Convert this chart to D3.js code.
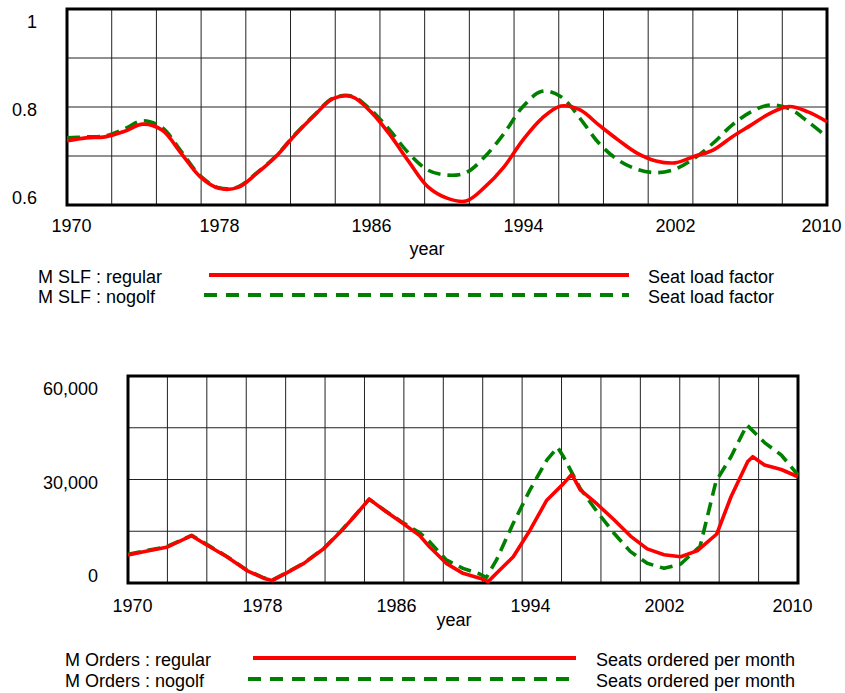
<!DOCTYPE html>
<html>
<head>
<meta charset="utf-8">
<script src="https://cdn.jsdelivr.net/npm/d3@7"></script>
<style>
  html, body { margin: 0; padding: 0; background: #fff; }
  svg { display: block; }
  text { font-family: "Liberation Sans", Arial, Helvetica, sans-serif; fill: #000; }
</style>
</head>
<body>
<svg id="chart" width="845" height="693"></svg>
<script>
// --- data ---
const xTickYears = [1970, 1978, 1986, 1994, 2002, 2010];

const slfYears = d3.range(1970, 2011);
const slfRegular = [
  0.731, 0.737, 0.739, 0.750, 0.765, 0.753, 0.706, 0.658, 0.634, 0.636,
  0.665, 0.699, 0.743, 0.782, 0.817, 0.821, 0.790, 0.743, 0.688, 0.637,
  0.614, 0.608, 0.637, 0.678, 0.733, 0.777, 0.802, 0.794, 0.763, 0.733,
  0.706, 0.690, 0.686, 0.699, 0.712, 0.739, 0.763, 0.787, 0.801, 0.790,
  0.770
];
const slfNogolf = [
  0.737, 0.739, 0.741, 0.755, 0.772, 0.758, 0.710, 0.660, 0.635, 0.637,
  0.666, 0.700, 0.744, 0.783, 0.818, 0.822, 0.794, 0.752, 0.705, 0.671,
  0.661, 0.666, 0.699, 0.746, 0.801, 0.832, 0.821, 0.777, 0.726, 0.692,
  0.673, 0.666, 0.673, 0.695, 0.726, 0.763, 0.790, 0.804, 0.797, 0.770,
  0.739
];
const slfTicks = [0.6, 0.8, 1];

const ordersRegularYears = [
  1970, 1971, 1972.3, 1973.8, 1974.7, 1975.9, 1977.1, 1978.1, 1978.6, 1979.5,
  1980.5, 1981.7, 1982.7, 1983.5, 1984.4, 1985.4, 1986.4, 1987.4, 1988, 1989,
  1990, 1991, 1991.5, 1992, 1993, 1994, 1995, 1996, 1996.5, 1997,
  1998, 1999, 2000, 2001, 2002, 2003, 2004, 2005.15, 2006, 2007,
  2007.3, 2008, 2009, 2010
];
const ordersRegular = [
  8100, 9100, 10350, 13700, 11000, 7600, 3600, 1400, 700, 3000,
  5700, 10000, 14900, 19200, 24300, 20700, 17300, 13800, 10500, 5700,
  2800, 1400, 400, 2800, 7600, 15300, 24000, 28800, 31500, 27000,
  22900, 18400, 13600, 9900, 8200, 7600, 9400, 14200, 25000, 35200,
  36600, 34200, 32900, 30800
];
const ordersNogolfYears = [
  1970, 1971, 1972.3, 1973.8, 1974.7, 1975.9, 1977.1, 1978.1, 1978.6, 1979.5,
  1980.5, 1981.7, 1982.7, 1983.5, 1984.4, 1985.4, 1986.4, 1987.4, 1988, 1989,
  1990, 1991, 1991.4, 1992, 1993, 1994, 1995, 1995.65, 1996, 1997,
  1998, 1999, 2000, 2001, 2002, 2003, 2004, 2004.15, 2005.1, 2006,
  2006.95, 2008, 2009, 2010
];
const ordersNogolf = [
  8300, 9300, 10500, 13800, 11200, 7700, 3700, 1500, 800, 3100,
  5800, 10100, 15000, 19300, 24300, 20800, 17500, 14600, 12000, 6700,
  4250, 2600, 1600, 6700, 17300, 27000, 35600, 39300, 36600, 27400,
  20700, 14500, 9100, 5700, 4250, 5500, 10000, 10500, 29400, 36600,
  45800, 40700, 37100, 31300
];
const ordersTicks = [0, 30000, 60000];

const seriesNames = ["regular", "nogolf"];
const seriesColors = ["#ff0000", "#008000"];
const legendUnits = ["Seat load factor", "Seats ordered per month"];
const legendVars = ["M SLF", "M Orders"];

// --- drawing ---
const svg = d3.select('#chart');

function drawPanel(p) {
  const g = svg.append('g');

  const x = d3.scaleLinear().domain([1970, 2010]).range([p.left, p.right]);
  const y = d3.scaleLinear().domain(p.yDomain).range([p.bottom, p.top]);

  // grid: 17 columns, 4 rows like the source
  const vCols = d3.range(1, 17).map(i => 1970 + i * 40 / 17);
  g.selectAll('.vgrid').data(vCols).enter().append('line')
    .attr('x1', d => x(d)).attr('x2', d => x(d))
    .attr('y1', p.top).attr('y2', p.bottom)
    .attr('stroke', '#222').attr('stroke-width', 1);

  const [y0, y1] = p.yDomain;
  const hRows = d3.range(1, 4).map(i => y0 + i * (y1 - y0) / 4);
  g.selectAll('.hgrid').data(hRows).enter().append('line')
    .attr('x1', p.left).attr('x2', p.right)
    .attr('y1', d => y(d)).attr('y2', d => y(d))
    .attr('stroke', '#222').attr('stroke-width', 1);

  g.append('rect')
    .attr('x', p.left).attr('y', p.top)
    .attr('width', p.right - p.left).attr('height', p.bottom - p.top)
    .attr('fill', 'none').attr('stroke', '#000').attr('stroke-width', 3);

  // axes
  const xAxis = g.append('g')
    .attr('transform', `translate(0, ${p.bottom})`)
    .call(d3.axisBottom(x).tickValues(xTickYears).tickFormat(d3.format('d')).tickSize(0));
  xAxis.select('.domain').remove();
  const nx = xTickYears.length;
  xAxis.selectAll('text')
    .attr('y', p.xLabelDy).attr('dy', 0)
    .attr('dx', (d, i) => i === 0 ? 4 : (i === nx - 1 ? -6 : 0))
    .attr('font-size', 18).attr('fill', '#000');

  const yAxis = g.append('g')
    .attr('transform', `translate(${p.left}, 0)`)
    .call(d3.axisLeft(y).tickValues(p.yTicks).tickFormat(p.yFormat).tickSize(0).tickPadding(30));
  yAxis.select('.domain').remove();
  const n = p.yTicks.length;
  yAxis.selectAll('text')
    .attr('dy', (d, i) => i === 0 ? -1.5 : (i === n - 1 ? 18 : 8.5))
    .attr('font-size', 18).attr('fill', '#000');

  g.append('text')
    .attr('x', p.yearX).attr('y', p.yearY)
    .attr('text-anchor', 'middle').attr('font-size', 18)
    .text('year');

  // series
  const line = d3.line()
    .x(d => x(d[0])).y(d => y(d[1]))
    .curve(p.curve);

  p.series.slice().reverse().forEach((s, k) => {
    const i = p.series.length - 1 - k;
    g.append('path')
      .datum(d3.zip(s.years, s.values))
      .attr('fill', 'none')
      .attr('stroke', seriesColors[i])
      .attr('stroke-width', 3.6)
      .attr('stroke-linejoin', 'round')
      .attr('stroke-dasharray', i === 1 ? '13,7' : null)
      .attr('d', line);
  });

  // legend
  seriesNames.forEach((name, i) => {
    const ly = p.legendY[i];
    g.append('text')
      .attr('x', p.legendTextX).attr('y', ly + 8)
      .attr('font-size', 18)
      .text(`${p.legendVar} : ${name}`);
    g.append('line')
      .attr('x1', i === 1 ? p.legendLineX[0] - 5 : p.legendLineX[0])
      .attr('x2', p.legendLineX[1])
      .attr('y1', ly).attr('y2', ly)
      .attr('stroke', seriesColors[i])
      .attr('stroke-width', 4)
      .attr('stroke-dasharray', i === 1 ? '13,9' : null);
    g.append('text')
      .attr('x', p.legendUnitX).attr('y', ly + 8)
      .attr('font-size', 18)
      .text(p.legendUnit);
  });
}

drawPanel({
  left: 67, right: 827, top: 9, bottom: 205,
  yDomain: [0.6, 1], yTicks: slfTicks, yFormat: d3.format('~g'),
  xLabelDy: 27, yearX: 427, yearY: 255,
  curve: d3.curveCatmullRom.alpha(0.5),
  series: [
    { years: slfYears, values: slfRegular },
    { years: slfYears, values: slfNogolf }
  ],
  legendVar: legendVars[0], legendUnit: legendUnits[0],
  legendTextX: 38, legendLineX: [209, 629], legendUnitX: 648,
  legendY: [275, 295]
});

drawPanel({
  left: 128, right: 798, top: 376, bottom: 583,
  yDomain: [0, 60000], yTicks: ordersTicks, yFormat: d3.format(','),
  xLabelDy: 29, yearX: 454, yearY: 626,
  curve: d3.curveLinear,
  series: [
    { years: ordersRegularYears, values: ordersRegular },
    { years: ordersNogolfYears, values: ordersNogolf }
  ],
  legendVar: legendVars[1], legendUnit: legendUnits[1],
  legendTextX: 65, legendLineX: [253, 576], legendUnitX: 596,
  legendY: [658, 679]
});
</script>
</body>
</html>
